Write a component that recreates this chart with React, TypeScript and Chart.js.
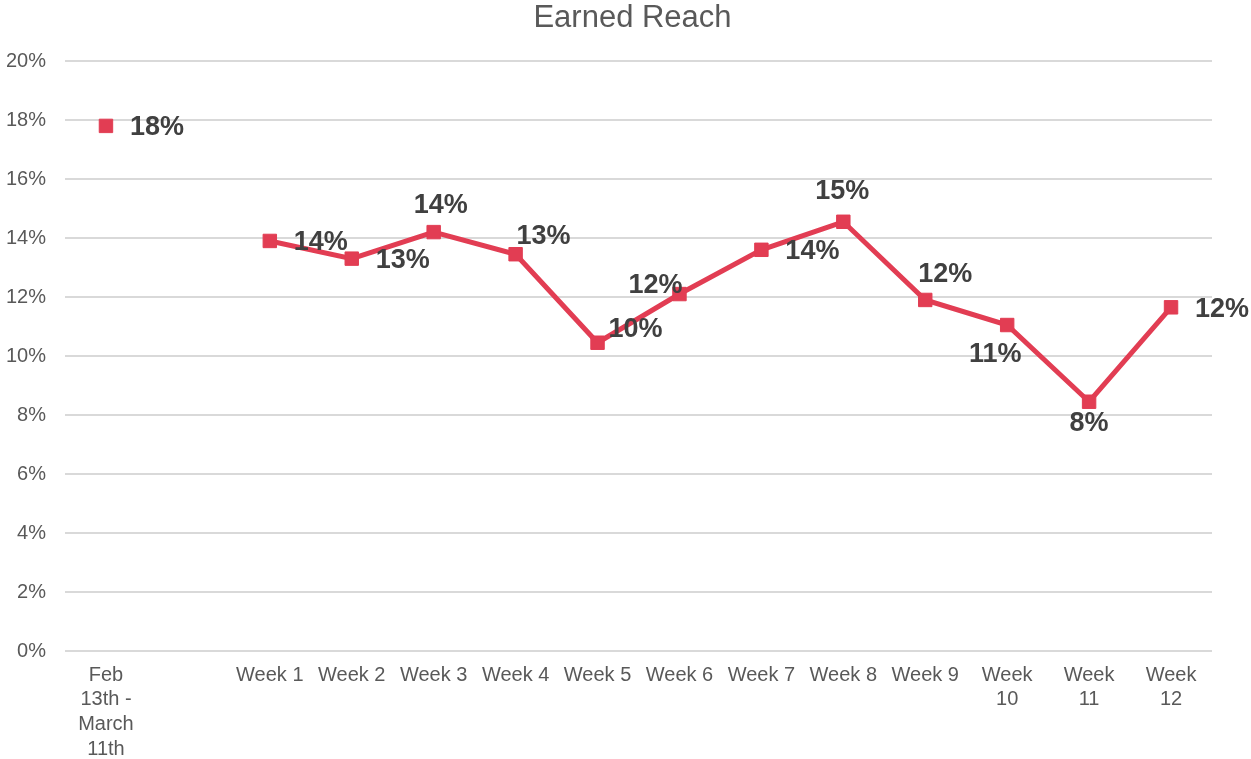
import React, { useEffect, useRef } from "react";
import { Chart, registerables } from "chart.js";

Chart.register(...registerables);

const chartTitle = "Earned Reach";

const categories: (string | string[])[] = [
  ["Feb", "13th -", "March", "11th"],
  "",
  "Week 1",
  "Week 2",
  "Week 3",
  "Week 4",
  "Week 5",
  "Week 6",
  "Week 7",
  "Week 8",
  "Week 9",
  ["Week", "10"],
  ["Week", "11"],
  ["Week", "12"],
];

const earnedReach: (number | null)[] = [
  17.8, null, 13.9, 13.3, 14.2, 13.45, 10.45, 12.1, 13.6, 14.55, 11.9, 11.05, 8.45, 11.65,
];

const yTicks = [0, 2, 4, 6, 8, 10, 12, 14, 16, 18, 20];

// label placement per point (style, not data)
const labelAnchors = [
  "right", "none", "right", "right", "above", "aboveRight", "aboveRight2", "aboveLeft",
  "right", "above2", "aboveRight3", "belowLeft", "below", "right",
];
const anchorOffsets: Record<string, [number, number]> = {
  right: [51, 2],
  above: [7, -27],
  above2: [-1, -30],
  aboveRight: [28, -18],
  aboveRight2: [38, -13],
  aboveRight3: [20, -25],
  aboveLeft: [-24, -9],
  belowLeft: [-12, 30],
  below: [0, 22],
  none: [0, 0],
};

const RED = "#E23D53";
const FONT = "'Liberation Sans', Arial, sans-serif";

const dataLabelPlugin = {
  id: "dataLabels",
  afterDatasetsDraw(chart: any) {
    const ctx = chart.ctx;
    const meta = chart.getDatasetMeta(0);
    ctx.save();
    ctx.font = `bold 27px ${FONT}`;
    ctx.fillStyle = "#404040";
    ctx.textAlign = "center";
    ctx.textBaseline = "middle";
    meta.data.forEach((pt: any, i: number) => {
      const v = earnedReach[i];
      if (v == null) return;
      const [dx, dy] = anchorOffsets[labelAnchors[i]] || [0, 0];
      ctx.fillText(`${Math.round(v)}%`, pt.x + dx, pt.y + dy);
    });
    ctx.restore();
  },
};

const titlePlugin = {
  id: "centeredTitle",
  afterDraw(chart: any) {
    const ctx = chart.ctx;
    ctx.save();
    ctx.font = `31px ${FONT}`;
    ctx.fillStyle = "#595959";
    ctx.textAlign = "center";
    ctx.textBaseline = "middle";
    ctx.fillText(chartTitle, chart.width / 2 + 7, 18);
    ctx.restore();
  },
};

export default function App() {
  const ref = useRef<HTMLCanvasElement>(null);
  useEffect(() => {
    document.body.style.margin = "0";
    const chart = new Chart(ref.current!, {
      type: "line",
      data: {
        labels: categories,
        datasets: [
          {
            data: earnedReach,
            borderColor: RED,
            backgroundColor: RED,
            borderWidth: 5,
            pointStyle: "rect",
            pointRadius: 9.5,
            pointBorderWidth: 1,
            pointBorderColor: RED,
            pointBackgroundColor: RED,
            spanGaps: false,
            tension: 0,
          },
        ],
      },
      options: {
        animation: false,
        responsive: false,
        maintainAspectRatio: false,
        layout: { padding: { top: 61, right: 39, bottom: 0, left: 0 } },
        plugins: {
          legend: { display: false },
          tooltip: { enabled: false },
          title: { display: false },
        },
        scales: {
          x: {
            offset: true,
            grid: { display: false, drawTicks: false },
            border: { display: false },
            ticks: {
              color: "#595959",
              font: { family: FONT, size: 20, lineHeight: 1.23 },
              maxRotation: 0,
              autoSkip: false,
              padding: 12,
            },
            afterFit: (s: any) => {
              s.height = 108;
            },
          },
          y: {
            min: 0,
            max: 20,
            afterBuildTicks: (s: any) => {
              s.ticks = yTicks.map((v) => ({ value: v }));
            },
            grid: { color: "#D9D9D9", lineWidth: 2, drawTicks: false },
            border: { display: false },
            ticks: {
              color: "#595959",
              font: { family: FONT, size: 20 },
              padding: 19,
              callback: (v: any) => `${v}%`,
            },
            afterFit: (s: any) => {
              s.width = 65;
            },
          },
        },
      },
      plugins: [dataLabelPlugin, titlePlugin],
    });
    return () => chart.destroy();
  }, []);
  return (
    <div style={{ position: "absolute", left: 0, top: 0, width: 1251, height: 759 }}>
      <canvas ref={ref} width={1251} height={759} style={{ width: 1251, height: 759 }} />
    </div>
  );
}
